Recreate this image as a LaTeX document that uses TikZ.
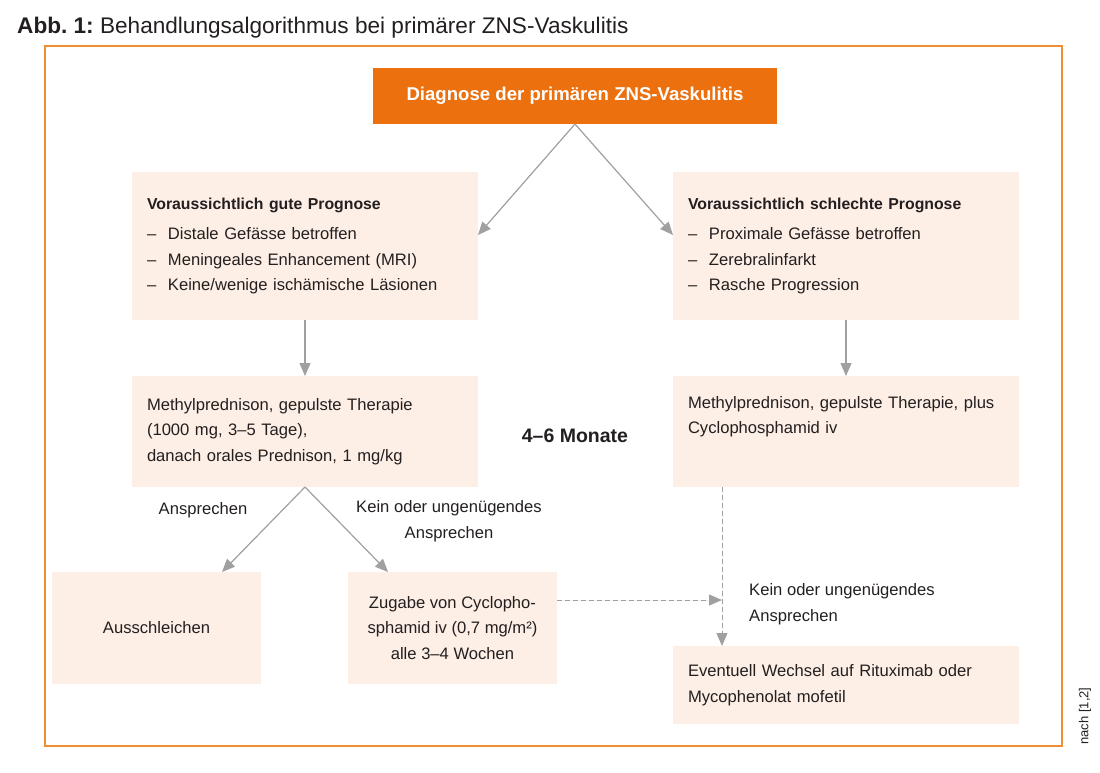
\documentclass[tikz,border=0pt]{standalone}
\usepackage{fontspec}
\setmainfont{Liberation Sans}
\usetikzlibrary{positioning,arrows.meta,calc}
\definecolor{frameOrange}{RGB}{241,142,52}
\definecolor{headOrange}{RGB}{236,112,14}
\definecolor{boxFill}{RGB}{253,239,229}
\definecolor{arrGray}{RGB}{160,160,160}
\definecolor{textDark}{RGB}{35,31,32}
\newcommand{\itm}{\makebox[21pt][l]{--}}
\newcommand{\boxhead}[1]{{\fontsize{15.8}{25.5}\selectfont\bfseries #1}}
\frenchspacing

\begin{document}
\begin{tikzpicture}[
                  x=1pt,y=-1pt,
                  font=\fontsize{16.6}{25.5}\selectfont,
                  text=textDark,
                  box/.style={fill=boxFill,outer sep=0pt},
                  prog/.style={box,anchor=north west,align=left,text width=316pt,inner xsep=15pt,inner ysep=0pt,minimum height=148pt},
                  small/.style={box,anchor=north west,align=center,minimum width=209pt,minimum height=112pt,inner sep=0pt},
                  head/.style={fill=headOrange,text=white,font=\fontsize{18.6}{21}\selectfont\bfseries,minimum width=404pt,minimum height=56pt,inner sep=0pt,outer sep=0pt},
                  arr/.style={-{Triangle[length=13pt,width=11pt]},draw=arrGray,fill=arrGray,line width=1.2pt},
                  dsh/.style={arr,line width=1pt,dash pattern=on 5pt off 3pt}
                ]
                \useasboundingbox (0,0) rectangle (1100,772);
                \node[anchor=base west,inner sep=0pt,font=\fontsize{22.6}{26}\selectfont] (title) at (17,33) {\textbf{Abb. 1:} Behandlungsalgorithmus bei primärer ZNS-Vaskulitis};
                \draw[frameOrange,line width=1.5pt] (45,46) rectangle (1062,746);

                \node[head] (diag) at (575,96) {Diagnose der primären ZNS-Vaskulitis};
                \node[prog] (good) at (132,172) {\boxhead{Voraussichtlich gute Prognose}\\[5pt]
                \itm Distale Gefässe betroffen\\
                \itm Meningeales Enhancement (MRI)\\
                \itm Keine/wenige ischämische Läsionen\\[-3pt]};
                \node[prog] (bad) at (673,172) {\boxhead{Voraussichtlich schlechte Prognose}\\[5pt]
                \itm Proximale Gefässe betroffen\\
                \itm Zerebralinfarkt\\
                \itm Rasche Progression\\[-3pt]};
                \node[prog,minimum height=111pt] (ltreat) at (132,376) {Methylprednison, gepulste Therapie\\
                (1000 mg, 3--5 Tage),\\
                danach orales Prednison, 1 mg/kg};
                \node[prog,minimum height=111pt] (rtreat) at (673,376) {Methylprednison, gepulste Therapie, plus\\
                Cyclophosphamid iv\\ \strut};
                \node[font=\fontsize{19.5}{22}\selectfont\bfseries] (dur) at (575,436) {4--6 Monate};
                \node[small] (taper) at (52,572) {Ausschleichen};
                \node[small] (cyc) at (348,572) {Zugabe von Cyclopho-\\
                sphamid iv (0,7 mg/m²)\\
                alle 3--4 Wochen};
                \node[prog,minimum height=78pt] (switch) at (673,646) {Eventuell Wechsel auf Rituximab oder\\
                Mycophenolat mofetil};

                \node (resp) at (203,510) {Ansprechen};
                \node[align=center] (noresp) at (449,521) {Kein oder ungenügendes\\Ansprechen};
                \node[anchor=west,align=left,inner sep=0pt] (noresp2) at (749,604) {Kein oder ungenügendes\\Ansprechen};
                \node[rotate=90,font=\fontsize{13}{15}\selectfont] (src) at (1085,716) {nach [1,2]};

                \draw[arr] (diag.south) -- ([yshift=11pt]good.east);
                \draw[arr] (diag.south) -- ([yshift=11pt]bad.west);
                \draw[arr] (good.south) -- (ltreat.north);
                \draw[arr] (bad.south) -- (rtreat.north);
                \draw[arr] (ltreat.south) -- ([xshift=-39pt]taper.north east);
                \draw[arr] (ltreat.south) -- ([xshift=40pt]cyc.north west);

                \coordinate (join) at (722,600);
                \draw[dsh] (cyc.east |- join) -- (join);
                \draw[dsh] (rtreat.south -| join) -- (switch.north -| join);
                \end{tikzpicture}
\end{document}
